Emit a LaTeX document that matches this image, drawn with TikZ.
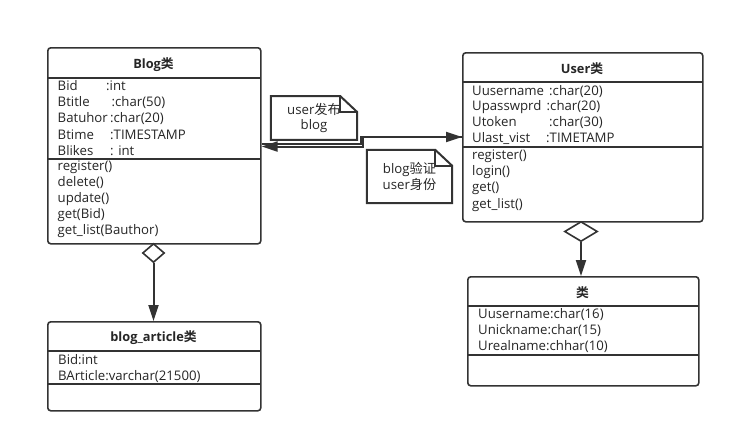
\documentclass[tikz,border=0pt]{standalone}
\usepackage{fontspec}
\setmainfont{Open Sans}
\newfontfamily\cjk{Noto Sans CJK SC}[BoldFont={Noto Sans CJK SC Bold}]
\usetikzlibrary{arrows.meta,shapes.geometric}
\definecolor{ln}{HTML}{333333}
\definecolor{tx}{HTML}{262626}
\begin{document}
\begin{tikzpicture}[x=1pt,y=-1pt,
  classbox/.style={draw=ln, line width=1.6pt, rounded corners=3pt, fill=white, inner sep=0pt, anchor=north west},
  sepline/.style={draw=ln, line width=1.4pt},
  attr/.style={anchor=base west, inner sep=0pt, font=\fontsize{13.2}{15}\selectfont, text=tx},
  ttl/.style={anchor=base, inner sep=0pt, font=\fontsize{12.8}{15}\selectfont\bfseries, text=tx},
  conn/.style={draw=ln, line width=2pt},
  tip/.style={-{Triangle[length=16pt,width=10pt]}},
  notebox/.style={inner sep=0pt, align=center, font=\fontsize{13.2}{15.6}\selectfont, text=tx},
  noteline/.style={draw=ln, line width=2pt, line join=miter},
  agg/.style={diamond, draw=ln, line width=1.6pt, fill=white, inner sep=0pt}
]
\useasboundingbox (0,0) rectangle (735,442);

% ---------- Blog class ----------
\node[classbox, minimum width=213pt, minimum height=196pt] (blog) at (47,47) {};
\draw[sepline] (47,78) -- (260,78);
\draw[sepline] (47,159) -- (260,159);
\node[ttl] (blogt) at (153.5,68.3) {Blog{\cjk 类}};
\foreach \n/\tx/\t/\y [count=\i] in {Bid/106/:int/90.5, Btitle/111.5/:char(50)/106.7, Batuhor/110/:char(20)/122.9, Btime/110/:TIMESTAMP/139.1, Blikes/110/: int/155.3}{
  \node[attr] (ban\i) at (57.5,\y) {\n};
  \node[attr] (bat\i) at (\tx,\y) {\t};
}
\node[attr] (bm1) at (57.5,170) {register()};
\node[attr] (bm2) at (57.5,186.2) {delete()};
\node[attr] (bm3) at (57.5,202.4) {update()};
\node[attr] (bm4) at (57.5,218.6) {get(Bid)};
\node[attr] (bm5) at (57.5,234.8) {get\_list(Bauthor)};

% ---------- User class ----------
\node[classbox, minimum width=240pt, minimum height=169pt] (user) at (462,52) {};
\draw[sepline] (462,82) -- (702,82);
\draw[sepline] (462,147) -- (702,147);
\node[ttl] (usert) at (582,73.3) {User{\cjk 类}};
\foreach \n/\tx/\t/\y [count=\i] in {Uusername/549/:char(20)/95, Upasswprd/546.5/:char(20)/110.8, Utoken/549/:char(30)/126.5, Ulast\_vist/546/:TIMETAMP/142.2}{
  \node[attr] (uan\i) at (472,\y) {\n};
  \node[attr] (uat\i) at (\tx,\y) {\t};
}
\node[attr] (um1) at (472,159) {register()};
\node[attr] (um2) at (472,175.4) {login()};
\node[attr] (um3) at (472,191.8) {get()};
\node[attr] (um4) at (472,208.2) {get\_list()};

% ---------- blog_article class ----------
\node[classbox, minimum width=213pt, minimum height=89pt] (art) at (47,321) {};
\draw[sepline] (47,351) -- (260,351);
\draw[sepline] (47,384) -- (260,384);
\node[ttl] (artt) at (153.5,341) {blog\_article{\cjk 类}};
\node[attr] (aa1) at (58,364.3) {Bid:int};
\node[attr] (aa2) at (58,380.3) {BArticle:varchar(21500)};

% ---------- lower right class ----------
\node[classbox, minimum width=231pt, minimum height=109pt] (cls) at (467,276) {};
\draw[sepline] (467,306) -- (698,306);
\draw[sepline] (467,355) -- (698,355);
\node[ttl] (clst) at (582.5,297) {{\cjk 类}};
\node[attr] (ca1) at (478,318.3) {Uusername:char(16)};
\node[attr] (ca2) at (478,334.3) {Unickname:char(15)};
\node[attr] (ca3) at (478,350.3) {Urealname:chhar(10)};

% ---------- aggregation connectors ----------
\node[agg, minimum width=22pt, minimum height=19pt] (d1) at (153.5,253) {};
\draw[conn, tip] (d1.south) -- (d1.south |- art.north);
\node[agg, minimum width=33pt, minimum height=20pt] (d2) at (581,231.5) {};
\draw[conn, tip] (d2.south) -- (d2.south |- cls.north);

% ---------- association connectors ----------
\coordinate (ya) at (0,144);
\coordinate (yb) at (0,146.5);
\coordinate (yu) at (0,137);
\coordinate (ra) at (360.5,0);
\coordinate (rb) at (362.5,0);
\draw[conn, tip] (blog.east |- ya) -- (ra |- ya) -- (ra |- yu) -- (user.west |- yu);
\draw[conn, tip] (user.west |- yu) -- (rb |- yu) -- (rb |- yb) -- (blog.east |- yb);

% ---------- notes ----------
\node[notebox, minimum width=86pt, minimum height=43.5pt] (n1) at (314,118) {user{\cjk 发布}\\blog};
\draw[noteline] (n1.north west) -- ([xshift=-17pt]n1.north east) -- ([yshift=-16pt]n1.north east) -- (n1.south east) -- (n1.south west) -- cycle;
\draw[noteline] ([xshift=-17pt]n1.north east) |- ([yshift=-16pt]n1.north east);

\node[notebox, minimum width=85pt, minimum height=53pt] (n2) at (409.5,176.5) {blog{\cjk 验证}\\user{\cjk 身份}};
\draw[noteline] (n2.north west) -- ([xshift=-17pt]n2.north east) -- ([yshift=-16pt]n2.north east) -- (n2.south east) -- (n2.south west) -- cycle;
\draw[noteline] ([xshift=-17pt]n2.north east) |- ([yshift=-16pt]n2.north east);
\end{tikzpicture}
\end{document}
